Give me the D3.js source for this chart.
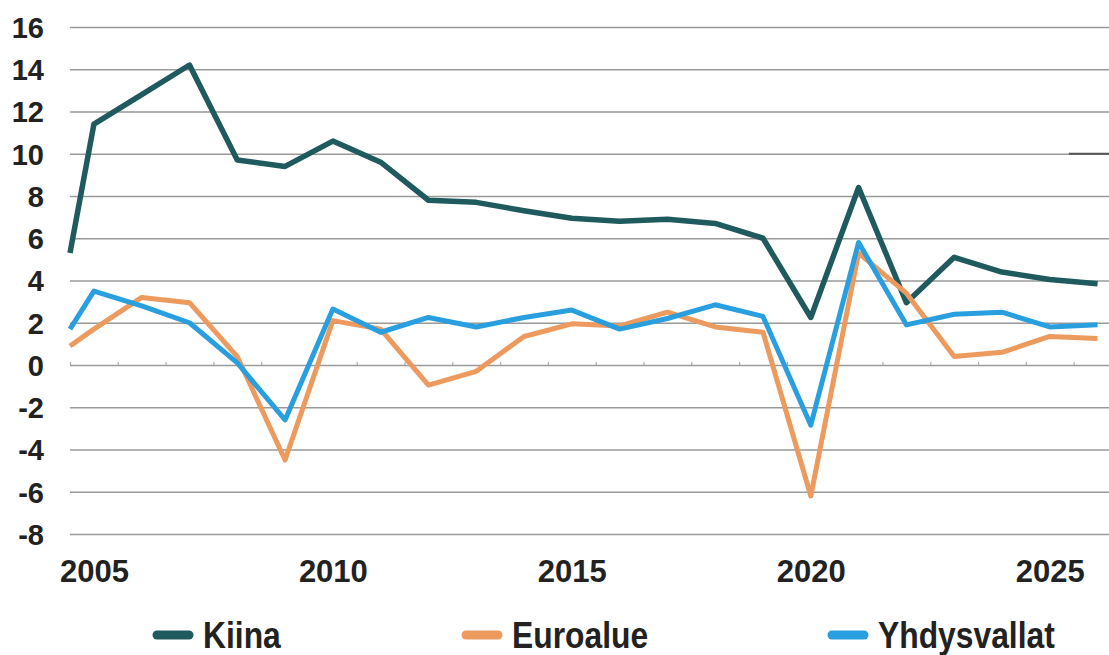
<!DOCTYPE html>
<html>
<head>
<meta charset="utf-8">
<script src="https://cdn.jsdelivr.net/npm/d3@7"></script>
<style>
  body { margin: 0; background: #fff; }
  svg { display: block; font-family: "Liberation Sans", Arial, sans-serif; font-weight: bold; }
</style>
</head>
<body>
<div id="kaavio"></div>
<script>
// Years (first point sits on the left edge of the plot, half a year before 2005)
const vuodet = [2004.5, 2005, 2006, 2007, 2008, 2009, 2010, 2011, 2012, 2013, 2014, 2015,
                2016, 2017, 2018, 2019, 2020, 2021, 2022, 2023, 2024, 2025, 2026];

// GDP growth, %
const kiina       = [5.3, 11.4, 12.8, 14.2, 9.7, 9.4, 10.6, 9.6, 7.8, 7.7, 7.3, 6.95,
                     6.8, 6.9, 6.7, 6.0, 2.25, 8.4, 2.95, 5.1, 4.4, 4.05, 3.85];
const euroalue    = [0.9, 1.7, 3.2, 2.95, 0.4, -4.5, 2.1, 1.7, -0.95, -0.3, 1.35, 1.95,
                     1.85, 2.5, 1.8, 1.55, -6.2, 5.3, 3.4, 0.4, 0.6, 1.35, 1.25];
const yhdysvallat = [1.7, 3.5, 2.8, 2.0, 0.1, -2.6, 2.65, 1.55, 2.25, 1.8, 2.25, 2.6,
                     1.7, 2.2, 2.85, 2.3, -2.85, 5.8, 1.9, 2.4, 2.5, 1.8, 1.9];

const sarjat = ["Kiina", "Euroalue", "Yhdysvallat"];
const varit  = ["#1f5b5e", "#ec9a5e", "#2a9fe0"];

const y_tikit = [16, 14, 12, 10, 8, 6, 4, 2, 0, -2, -4, -6, -8];
const x_tikit = [2005, 2010, 2015, 2020, 2025];

const leveys = 1109, korkeus = 655;

const svg = d3.select("#kaavio").append("svg")
  .attr("width", leveys)
  .attr("height", korkeus);

const x = d3.scaleLinear().domain([2004.5, 2026.25]).range([70, 1109.5]);
const y = d3.scaleLinear().domain([-8, 16]).range([534, 27]);

// Horizontal grid lines
svg.append("g")
  .attr("transform", "translate(" + x(2004.5) + ",0)")
  .call(d3.axisLeft(y).tickValues(y_tikit).tickSize(-(x(2026.25) - x(2004.5))).tickFormat(""))
  .call(g => g.select(".domain").remove())
  .call(g => g.selectAll("line").attr("stroke", "#9a9a9a").attr("stroke-width", 1.6));

// Y labels (plain hyphen for minus, as in the original)
svg.append("g")
  .attr("transform", "translate(44,0)")
  .call(d3.axisLeft(y).tickValues(y_tikit).tickSize(0).tickPadding(0).tickFormat(d => String(d)))
  .call(g => g.select(".domain").remove())
  .call(g => g.selectAll("text")
    .attr("fill", "#222")
    .attr("font-size", 29)
    .attr("font-weight", "bold")
    .attr("font-family", "Liberation Sans, Arial, sans-serif")
    .attr("dy", "0.36em"));

// Small category ticks on the zero line
const rajat = d3.range(2004.5, 2026, 1);
svg.append("g")
  .attr("transform", "translate(0," + y(0) + ")")
  .call(d3.axisTop(x).tickValues(rajat).tickSize(3).tickFormat(""))
  .call(g => g.select(".domain").remove())
  .call(g => g.selectAll("line").attr("stroke", "#aaa").attr("stroke-width", 1.2));

// X labels
svg.append("g")
  .attr("transform", "translate(0,560)")
  .call(d3.axisBottom(x).tickValues(x_tikit).tickSize(0).tickPadding(0).tickFormat(d => String(d)))
  .call(g => g.select(".domain").remove())
  .call(g => g.selectAll("text")
    .attr("fill", "#222")
    .attr("font-size", 31)
    .attr("font-weight", "bold")
    .attr("font-family", "Liberation Sans, Arial, sans-serif")
    .attr("dy", "0.7em"));

// little dark dash on the 10 line, right side
svg.append("line")
  .attr("x1", x(2025.4)).attr("x2", x(2026.25))
  .attr("y1", y(10)).attr("y2", y(10))
  .attr("stroke", "#555").attr("stroke-width", 2);

// Lines
const viiva = d3.line()
  .x((d, i) => x(vuodet[i]))
  .y(d => y(d));

const arvot = [kiina, euroalue, yhdysvallat];
for (let i = 0; i < arvot.length; i++) {
  svg.append("path")
    .datum(arvot[i])
    .attr("d", viiva)
    .attr("fill", "none")
    .attr("stroke", varit[i])
    .attr("stroke-width", i == 0 ? 5.5 : 5)
    .attr("stroke-linejoin", "round");
}

// Legend
const selite_x = [153, 462, 828];
for (let i = 0; i < sarjat.length; i++) {
  const g = svg.append("g").attr("transform", "translate(" + selite_x[i] + ",635)");
  g.append("line")
    .attr("x1", 4).attr("x2", 36)
    .attr("y1", 0).attr("y2", 0)
    .attr("stroke", varit[i])
    .attr("stroke-width", 9)
    .attr("stroke-linecap", "round");
  g.append("text")
    .attr("transform", "translate(50,13) scale(0.86,1)")
    .attr("font-size", 37)
    .attr("fill", "#222")
    .text(sarjat[i]);
}
</script>
</body>
</html>
